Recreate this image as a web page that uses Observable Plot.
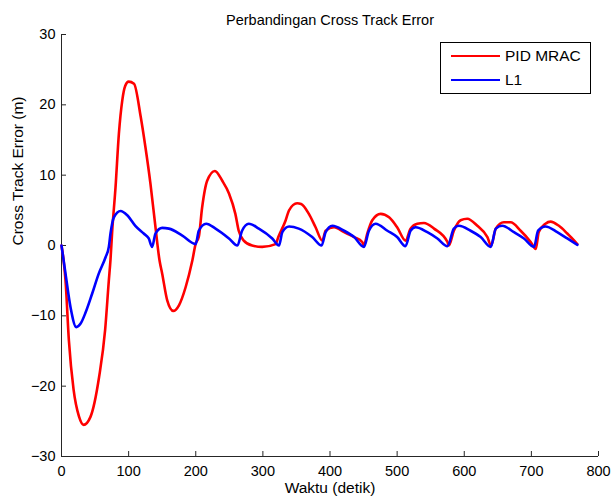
<!DOCTYPE html>
<html>
<head>
<meta charset="utf-8">
<script src="https://cdn.jsdelivr.net/npm/d3@7"></script>
<script src="https://cdn.jsdelivr.net/npm/@observablehq/plot@0.6"></script>
<style>
  body { margin: 0; background: #fff; font-family: "Liberation Sans", Arial, sans-serif; }
  #wrap { position: relative; width: 615px; height: 500px; }
  .legend { position: absolute; left: 440px; top: 42px; width: 151px; height: 52px; border: 1px solid #000; background: #fff; box-sizing: border-box; }
  .item { position: absolute; left: 10px; height: 20px; display: flex; align-items: center; font-size: 15.5px; color: #000; }
  .sw { width: 49px; height: 0; border-top: 2.5px solid; margin-right: 5px; }
</style>
</head>
<body>
<div id="wrap"></div>
<script>
const titleText = "Perbandingan Cross Track Error";
const xLabel = "Waktu (detik)";
const yLabel = "Cross Track Error (m)";
const seriesNames = ["PID MRAC", "L1"];
const seriesColors = ["#ff0000", "#0000ff"];
const xTicks = [0, 100, 200, 300, 400, 500, 600, 700, 800];
const yTicks = [-30, -20, -10, 0, 10, 20, 30];

const pidTime = [0, 3, 6, 11, 18, 26, 33, 43, 56, 65, 70.5, 73, 75.5, 80.5, 85.5, 90.5, 95, 100, 108, 118, 125, 132.5, 140, 146, 150, 157.5, 166.5, 175, 185, 195, 200, 204.5, 209.5, 217, 228.5, 239.5, 249.5, 259, 264, 271.5, 284, 299, 319, 323, 334, 339, 351, 357, 368.5, 378.5, 388.5, 393.5, 406, 421, 436, 448, 450.5, 455.5, 463, 475.5, 488, 500, 512.5, 520, 530, 540, 555, 575, 577, 584.5, 594.5, 604.5, 619.5, 634.5, 640, 647, 659, 669, 684, 699, 706.5, 711, 721, 728.5, 741, 753.5, 768.5];
const pidError = [0, -2, -5, -13.5, -20.5, -24.3, -25.5, -24.4, -18.7, -12, -5, -2, 2, 8.3, 15.9, 20.6, 22.7, 23.3, 23, 18.3, 14, 8.8, 2.6, -2.1, -4, -7.8, -9.3, -8.5, -5.9, -2.1, 0.3, 1.2, 5.4, 9.2, 10.6, 9.2, 7.4, 4.5, 2.1, 0.7, 0, -0.2, 0.2, 1.2, 3.6, 5, 6.0, 5.9, 4.5, 2.6, 0.7, 2.1, 2.6, 1.9, 1.2, 0.5, 0, 1.7, 3.6, 4.5, 4.0, 2.6, 0.7, 2.4, 3.1, 3.2, 2.4, 0.5, 0, 2.1, 3.6, 3.8, 2.8, 1.2, 0, 2.4, 3.3, 3.3, 2.1, 0.5, -0.5, 1.9, 3.1, 3.4, 2.8, 1.7, 0.2];

const l1Time = [0, 6, 13.5, 22, 28.5, 36, 45.5, 55.5, 65.5, 70.5, 73, 78, 88, 98, 110, 122.5, 130, 135, 140, 150, 160, 180, 200, 204.5, 215.5, 229.5, 249.5, 262, 269, 279, 294, 314, 324, 329, 339, 353.5, 373.5, 387.5, 393.5, 403.5, 421, 436, 450.5, 458, 468, 485.5, 500, 512.5, 520, 527.5, 545, 560, 575, 584.5, 592, 609.5, 624.5, 639.5, 647, 656.5, 674, 689, 704, 710, 721, 738.5, 753.5, 768.5];
const l1Error = [0, -4, -8.8, -11.6, -11.1, -9.5, -6.9, -4.0, -1.7, -0.2, 1.7, 4.0, 4.9, 4.3, 2.8, 1.7, 1.0, -0.2, 1.7, 2.5, 2.4, 1.4, 0.2, 2.1, 3.1, 2.4, 1.0, 0, 2.1, 3.1, 2.4, 1.0, 0, 1.9, 2.7, 2.4, 1.2, 0, 1.9, 2.8, 2.1, 1.2, -0.2, 2.1, 3.1, 2.1, 1.2, -0.1, 2.1, 2.6, 1.9, 1.0, -0.1, 2.4, 2.8, 2.1, 1.2, -0.2, 2.4, 2.8, 1.9, 1.0, -0.2, 2.1, 2.7, 1.9, 1.0, 0.1];

const pid = pidTime.map((t, i) => ({t, e: pidError[i]}));
const l1 = l1Time.map((t, i) => ({t, e: l1Error[i]}));

const axisColor = "#262626";
const chart = Plot.plot({
  width: 615,
  height: 500,
  marginLeft: 61,
  marginRight: 17,
  marginTop: 34,
  marginBottom: 44,
  style: { fontFamily: "'Liberation Sans', Arial, sans-serif", fontSize: "14.5px", background: "#fff", color: "#000" },
  x: { domain: [0, 800] },
  y: { domain: [-30, 30] },
  marks: [
    Plot.axisX(xTicks, { tickSize: 0, tickPadding: 9, label: null, fontSize: 14.5 }),
    Plot.axisY(yTicks, { tickSize: 0, tickPadding: 6, label: null, fontSize: 14.5 }),
    Plot.ruleX(xTicks, { x: d => d, insetTop: 417, stroke: axisColor }),
    Plot.ruleY(yTicks, { y: d => d, insetRight: 532, stroke: axisColor }),
    Plot.ruleX([0], { stroke: axisColor }),
    Plot.ruleY([-30], { stroke: axisColor }),
    Plot.line(pid, { x: "t", y: "e", stroke: seriesColors[0], strokeWidth: 2.6, curve: "monotone-x" }),
    Plot.line(l1, { x: "t", y: "e", stroke: seriesColors[1], strokeWidth: 2.6, curve: "monotone-x" }),
    Plot.text([titleText], { frameAnchor: "top", dy: -20, fontSize: 14.5 }),
    Plot.text([xLabel], { frameAnchor: "bottom", dy: 36, fontSize: 15.5 }),
    Plot.text([yLabel], { frameAnchor: "left", rotate: -90, dx: -43, fontSize: 15.5 })
  ]
});

const wrap = document.getElementById("wrap");
wrap.appendChild(chart);
const legend = document.createElement("div");
legend.className = "legend";
seriesNames.forEach((name, i) => {
  const item = document.createElement("div");
  item.className = "item";
  item.style.top = (2.5 + i * 24) + "px";
  const sw = document.createElement("span");
  sw.className = "sw";
  sw.style.borderColor = seriesColors[i];
  item.appendChild(sw);
  item.appendChild(document.createTextNode(name));
  legend.appendChild(item);
});
wrap.appendChild(legend);
</script>
</body>
</html>
